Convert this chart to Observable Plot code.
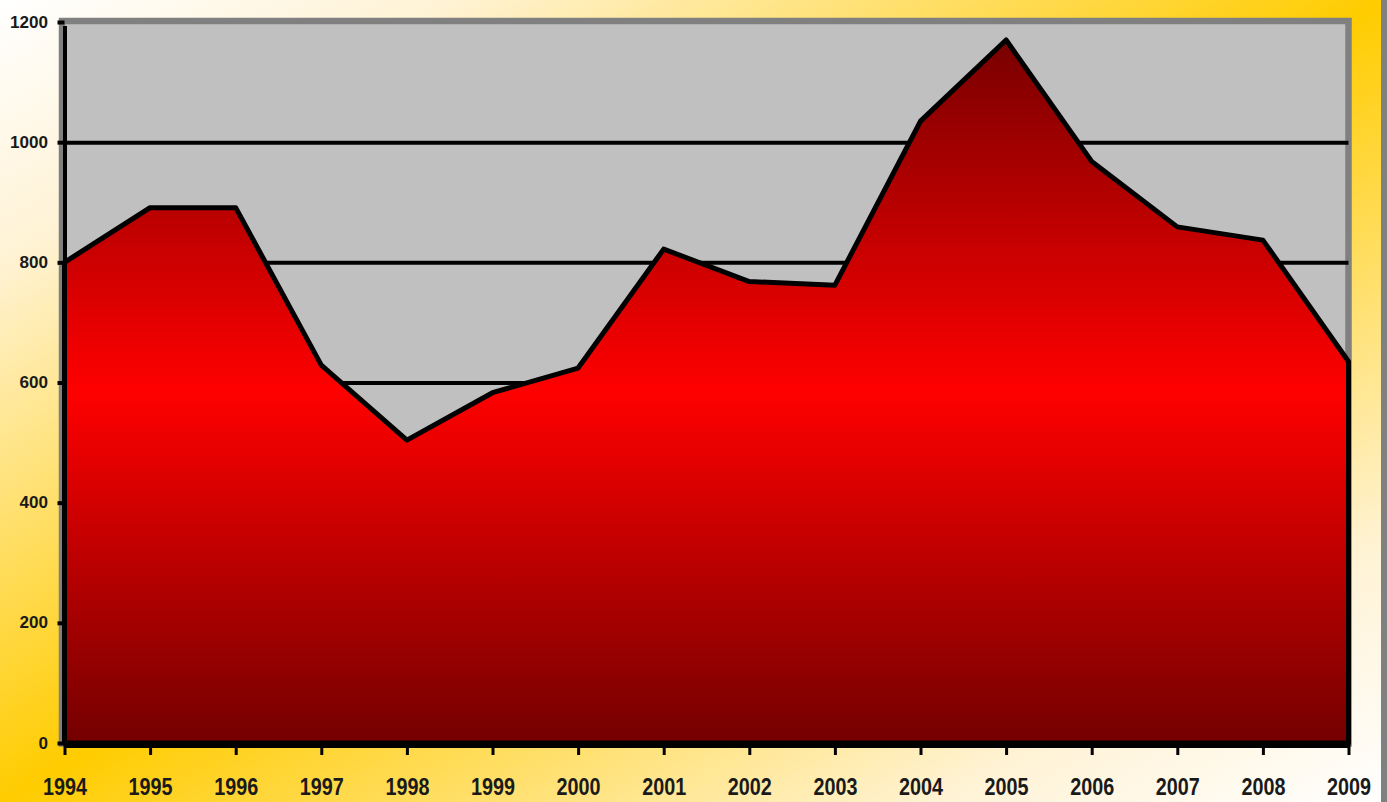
<!DOCTYPE html>
<html>
<head>
<meta charset="utf-8">
<script src="https://cdn.jsdelivr.net/npm/d3@7"></script>
<script src="https://cdn.jsdelivr.net/npm/@observablehq/plot@0.6"></script>
<style>
  html, body { margin: 0; padding: 0; }
  body {
    position: relative;
    width: 1387px; height: 802px; overflow: hidden;
    background: linear-gradient(to bottom right, #ffffff 0%, #fff3d6 16%, #ffcc00 50%, #fff3d6 84%, #ffffff 100%);
  }
  #chart svg { display: block; background: transparent; }
  #edge { position: absolute; top: 0; right: 0; width: 6px; height: 802px; background: #808080; }
</style>
</head>
<body>
<div id="chart"></div>
<div id="edge"></div>
<script>
const years  = [1994, 1995, 1996, 1997, 1998, 1999, 2000, 2001, 2002, 2003, 2004, 2005, 2006, 2007, 2008, 2009];
const values = [800, 891, 891, 629, 504, 583, 624, 822, 768, 762, 1035, 1170, 968, 859, 837, 635];
const yTicks = [0, 200, 400, 600, 800, 1000, 1200];
const gridValues = [200, 400, 600, 800, 1000];

const data = years.map((year, i) => ({year, value: values[i]}));

const gradientDefs = () => {
  const defs = d3.create("svg:defs");
  const g = defs.append("linearGradient")
    .attr("id", "redgrad")
    .attr("x1", 0).attr("y1", 0).attr("x2", 0).attr("y2", 1);
  g.append("stop").attr("offset", "0%").attr("stop-color", "#780000");
  g.append("stop").attr("offset", "50%").attr("stop-color", "#ff0000");
  g.append("stop").attr("offset", "100%").attr("stop-color", "#740000");
  return defs.node();
};

const chart = Plot.plot({
  width: 1387,
  height: 802,
  marginLeft: 64.5,
  marginRight: 38.5,
  marginTop: 22,
  marginBottom: 59,
  style: {background: "transparent", fontFamily: "'Liberation Sans', Arial, sans-serif"},
  x: {type: "linear", domain: [1994, 2009]},
  y: {domain: [0, 1200]},
  marks: [
    gradientDefs,
    Plot.frame({fill: "#c0c0c0", stroke: "#808080", strokeWidth: 6.5, insetTop: -1.5, insetLeft: -3, insetRight: 0.5}),
    Plot.ruleY(gridValues, {stroke: "#000", strokeWidth: 4}),
    Plot.areaY(data, {x: "year", y: "value", fill: "url(#redgrad)", stroke: "#000", strokeWidth: 5, strokeLinejoin: "round"}),
    Plot.ruleX([1994], {y1: 0, y2: 1200, stroke: "#000", strokeWidth: 4, insetBottom: -4}),
    Plot.ruleY([0], {stroke: "#000", strokeWidth: 6, dy: 1.5}),
    Plot.axisY({ticks: yTicks, tickFormat: d => String(d), tickSize: 7, tickPadding: 10, strokeWidth: 4, stroke: "#000",
      fontSize: 16, fontWeight: "bold", fill: "#1a1a1a", label: null}),
    Plot.axisX({ticks: years, tickFormat: d => String(d), tickSize: 12, tickPadding: 22, strokeWidth: 3, stroke: "#000",
      fontSize: 24, fontWeight: "bold", fill: "#1a1a1a", label: null})
  ]
});

document.getElementById("chart").appendChild(chart);

// condense the tick labels like the original narrow bold font
d3.select(chart).selectAll('g[aria-label="x-axis tick label"] text')
  .attr("textLength", 44).attr("lengthAdjust", "spacingAndGlyphs");
d3.select(chart).selectAll('g[aria-label="y-axis tick label"] text')
  .each(function() {
    const n = this.textContent.length;
    d3.select(this).attr("textLength", n * 9.5).attr("lengthAdjust", "spacingAndGlyphs");
  });
</script>
</body>
</html>
